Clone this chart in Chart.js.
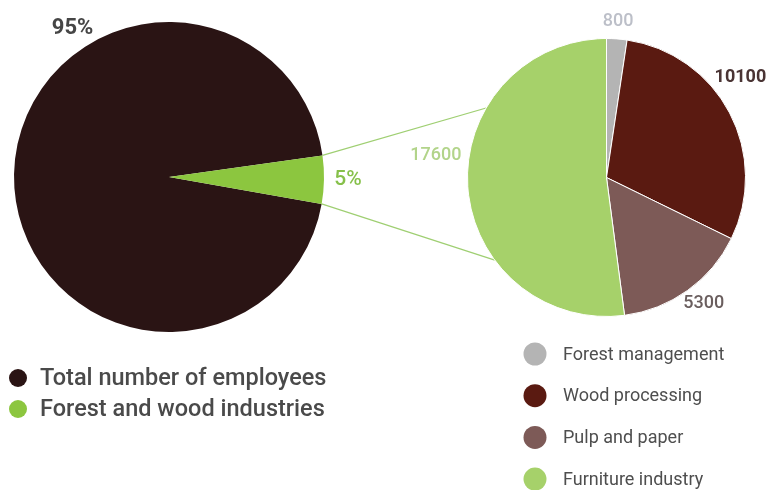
<!DOCTYPE html>
<html>
<head>
<meta charset="utf-8">
<script src="https://cdn.jsdelivr.net/npm/chart.js@4.4.1/dist/chart.umd.min.js"></script>
<style>
  html, body { margin: 0; padding: 0; background: #ffffff; }
  #wrap { position: relative; width: 773px; height: 490px; overflow: hidden; }
  #wrap canvas { position: absolute; left: 0; top: 0; }
</style>
</head>
<body>
<div id="wrap">
  <canvas id="shareChart" width="773" height="490"></canvas>
  <canvas id="sectorChart" width="773" height="490"></canvas>
</div>
<script>
// Share of all employees working in forest and wood industries (%)
const shareLabels = ['Total number of employees', 'Forest and wood industries'];
const shareValues = [95, 5];
const shareColors = ['#2a1414', '#8cc63f'];

// Employees by branch within forest and wood industries
const sectorLabels = ['Forest management', 'Wood processing', 'Pulp and paper', 'Furniture industry'];
const sectorValues = [800, 10100, 5300, 17600];
const sectorColors = ['#b4b4b4', '#5a1a11', '#7d5a57', '#a6d16a'];

const FONT = 'Roboto, "Noto Sans", sans-serif';

// Value label styling and placement (angle shift in degrees, distance beyond rim in px)
const shareLabelStyle = [
  { color: '#464646', size: 22, weight: '700', dAngle: 56, dR: 22, text: v => v + '%' },
  { color: '#86c04a', size: 21, weight: '500', dAngle: 0, dR: 24, text: v => v + '%' }
];
const sectorLabelStyle = [
  { color: '#bcbfc8', size: 18, weight: '500', dAngle: 0, dR: 17 },
  { color: '#4a3434', size: 18, weight: '700', dAngle: -9, dR: 28 },
  { color: '#6a5e5e', size: 18, weight: '500', dAngle: -2, dR: 20 },
  { color: '#b2d48a', size: 18, weight: '500', dAngle: 11, dR: 33 }
];

function drawArcLabels(chart, styles, formatter) {
  const ctx = chart.ctx;
  const meta = chart.getDatasetMeta(0);
  const values = chart.data.datasets[0].data;
  ctx.save();
  ctx.textAlign = 'center';
  ctx.textBaseline = 'middle';
  meta.data.forEach((arc, i) => {
    const s = styles[i];
    const p = arc.getProps(['x', 'y', 'startAngle', 'endAngle', 'outerRadius'], true);
    const mid = (p.startAngle + p.endAngle) / 2 + s.dAngle * Math.PI / 180;
    const r = p.outerRadius + s.dR;
    ctx.font = s.weight + ' ' + s.size + 'px ' + FONT;
    ctx.fillStyle = s.color;
    const txt = s.text ? s.text(values[i]) : formatter(values[i]);
    ctx.fillText(txt, p.x + Math.cos(mid) * r, p.y + Math.sin(mid) * r);
  });
  ctx.restore();
}

function drawLegend(chart, labels, colors, opt) {
  const ctx = chart.ctx;
  ctx.save();
  ctx.textBaseline = 'middle';
  ctx.textAlign = 'left';
  ctx.font = opt.weight + ' ' + opt.size + 'px ' + FONT;
  labels.forEach((lab, i) => {
    const y = opt.y + i * opt.step;
    ctx.beginPath();
    ctx.arc(opt.x, y, opt.dot, 0, Math.PI * 2);
    ctx.fillStyle = colors[i];
    ctx.fill();
    ctx.fillStyle = opt.color;
    ctx.fillText(lab, opt.x + opt.gap, y + 1);
  });
  ctx.restore();
}

const shareDecor = {
  id: 'shareDecor',
  afterDatasetsDraw(chart) {
    drawArcLabels(chart, shareLabelStyle);
    drawLegend(chart, shareLabels, shareColors,
      { x: 18, y: 378, step: 31, dot: 9, gap: 22, size: 23.5, weight: '500', color: '#4a4a4a' });
  }
};

let shareChart;

const sectorDecor = {
  id: 'sectorDecor',
  beforeDatasetsDraw(chart) {
    // Connector lines from the highlighted slice to the breakdown pie
    const src = shareChart.getDatasetMeta(0).data[1]
      .getProps(['x', 'y', 'startAngle', 'endAngle', 'outerRadius'], true);
    const dst = chart.getDatasetMeta(0).data[0]
      .getProps(['x', 'y', 'outerRadius'], true);
    const ends = [210, 143.5].map(a => a * Math.PI / 180);
    const starts = [src.startAngle, src.endAngle];
    const ctx = chart.ctx;
    ctx.save();
    ctx.strokeStyle = '#9fcf72';
    ctx.lineWidth = 1.2;
    for (let k = 0; k < 2; k++) {
      ctx.beginPath();
      ctx.moveTo(src.x + Math.cos(starts[k]) * src.outerRadius, src.y + Math.sin(starts[k]) * src.outerRadius);
      ctx.lineTo(dst.x + Math.cos(ends[k]) * dst.outerRadius, dst.y + Math.sin(ends[k]) * dst.outerRadius);
      ctx.stroke();
    }
    ctx.restore();
  },
  afterDatasetsDraw(chart) {
    drawArcLabels(chart, sectorLabelStyle, v => String(v));
    drawLegend(chart, sectorLabels, sectorColors,
      { x: 535, y: 354, step: 41.7, dot: 11.5, gap: 28, size: 18, weight: '400', color: '#4e4e4e' });
  }
};

const baseOptions = {
  responsive: false,
  animation: false,
  events: [],
  plugins: { legend: { display: false }, tooltip: { enabled: false } }
};

shareChart = new Chart(document.getElementById('shareChart'), {
  type: 'pie',
  data: {
    labels: shareLabels,
    datasets: [{ data: shareValues, backgroundColor: shareColors, borderWidth: 0 }]
  },
  options: Object.assign({}, baseOptions, {
    rotation: 100,
    layout: { padding: { left: 14, top: 22, right: 449, bottom: 158 } }
  }),
  plugins: [shareDecor]
});

new Chart(document.getElementById('sectorChart'), {
  type: 'pie',
  data: {
    labels: sectorLabels,
    datasets: [{ data: sectorValues, backgroundColor: sectorColors, borderColor: '#ffffff', borderWidth: 1 }]
  },
  options: Object.assign({}, baseOptions, {
    rotation: 0,
    layout: { padding: { left: 467, top: 38, right: 27, bottom: 173 } }
  }),
  plugins: [sectorDecor]
});
</script>
</body>
</html>
